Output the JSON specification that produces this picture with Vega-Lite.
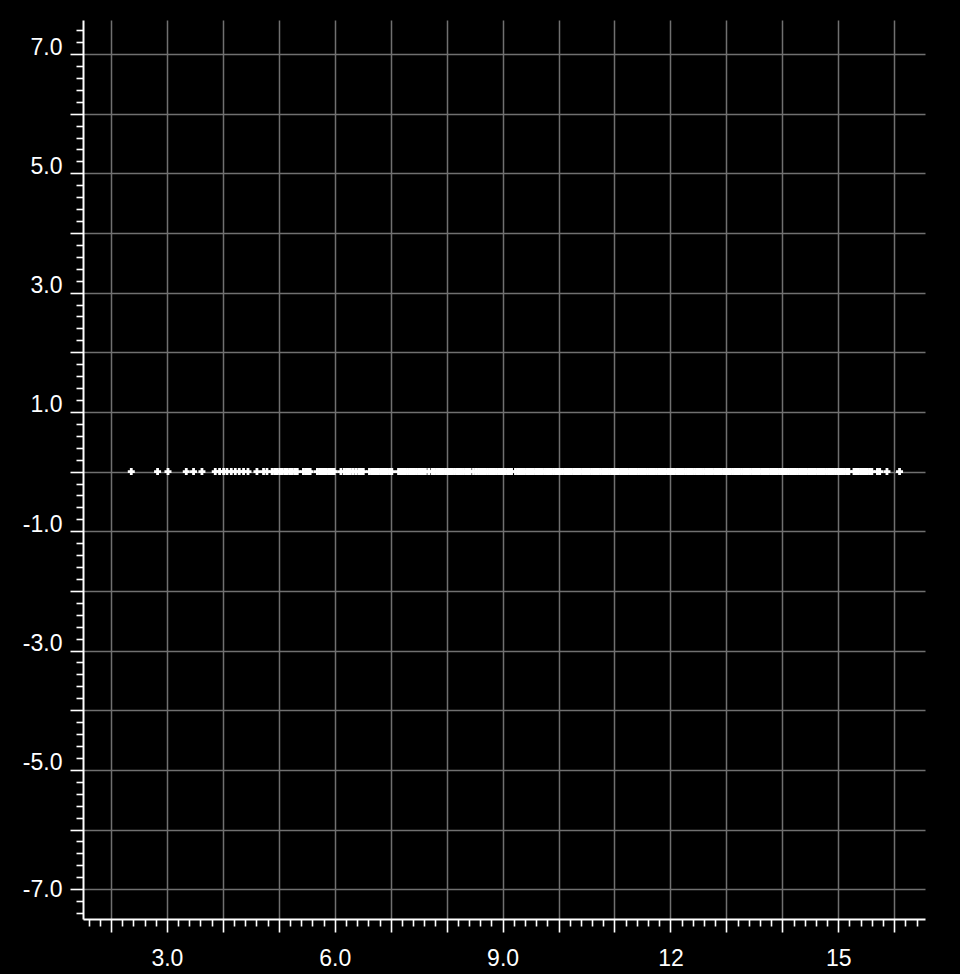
{
  "$schema": "https://vega.github.io/schema/vega-lite/v6.json",
  "width": 842,
  "height": 899,
  "autosize": {"type": "none"},
  "padding": {"left": 83, "top": 20, "right": 35, "bottom": 55},
  "background": "black",
  "view": {"stroke": null},
  "data": {"values": [
    {"x":2.363,"y":0},{"x":2.833,"y":0},{"x":3.019,"y":0},{"x":3.346,"y":0},{"x":3.476,"y":0},{"x":3.626,"y":0},{"x":3.864,"y":0},{"x":3.941,"y":0},{"x":4.013,"y":0},{"x":4.073,"y":0},{"x":4.15,"y":0},{"x":4.222,"y":0},{"x":4.293,"y":0},{"x":4.37,"y":0},{"x":4.449,"y":0},{"x":4.609,"y":0},{"x":4.727,"y":0},{"x":4.788,"y":0},
    {"x":4.88,"y":0},{"x":4.925,"y":0},{"x":4.97,"y":0},{"x":5.015,"y":0},{"x":5.06,"y":0},{"x":5.105,"y":0},{"x":5.15,"y":0},{"x":5.195,"y":0},{"x":5.24,"y":0},{"x":5.285,"y":0},{"x":5.33,"y":0},
    {"x":5.44,"y":0},{"x":5.48,"y":0},{"x":5.52,"y":0},{"x":5.56,"y":0},
    {"x":5.69,"y":0},{"x":5.73,"y":0},{"x":5.77,"y":0},{"x":5.81,"y":0},{"x":5.85,"y":0},{"x":5.89,"y":0},{"x":5.93,"y":0},{"x":5.97,"y":0},{"x":5.99,"y":0},
    {"x":6.11,"y":0},{"x":6.17,"y":0},{"x":6.21,"y":0},{"x":6.24,"y":0},{"x":6.28,"y":0},{"x":6.33,"y":0},{"x":6.38,"y":0},{"x":6.43,"y":0},{"x":6.47,"y":0},{"x":6.51,"y":0},
    {"x":6.62,"y":0},{"x":6.66,"y":0},{"x":6.7,"y":0},{"x":6.74,"y":0},{"x":6.78,"y":0},{"x":6.82,"y":0},{"x":6.86,"y":0},{"x":6.9,"y":0},{"x":6.94,"y":0},{"x":6.98,"y":0},{"x":7.02,"y":0},
    {"x":7.14,"y":0},{"x":7.18,"y":0},{"x":7.22,"y":0},{"x":7.26,"y":0},{"x":7.3,"y":0},{"x":7.34,"y":0},{"x":7.38,"y":0},{"x":7.42,"y":0},{"x":7.46,"y":0},{"x":7.5,"y":0},{"x":7.54,"y":0},{"x":7.58,"y":0},{"x":7.62,"y":0},
    {"x":7.68,"y":0},
    {"x":7.74,"y":0},{"x":7.78,"y":0},{"x":7.82,"y":0},{"x":7.86,"y":0},{"x":7.9,"y":0},{"x":7.94,"y":0},{"x":7.98,"y":0},{"x":8.02,"y":0},{"x":8.06,"y":0},{"x":8.1,"y":0},{"x":8.14,"y":0},{"x":8.18,"y":0},{"x":8.22,"y":0},{"x":8.26,"y":0},{"x":8.3,"y":0},{"x":8.34,"y":0},{"x":8.38,"y":0},{"x":8.42,"y":0},
    {"x":8.48,"y":0},
    {"x":8.53,"y":0},{"x":8.57,"y":0},{"x":8.61,"y":0},{"x":8.65,"y":0},{"x":8.69,"y":0},{"x":8.73,"y":0},{"x":8.77,"y":0},{"x":8.81,"y":0},{"x":8.85,"y":0},{"x":8.89,"y":0},{"x":8.93,"y":0},{"x":8.97,"y":0},{"x":9.01,"y":0},{"x":9.05,"y":0},{"x":9.09,"y":0},{"x":9.13,"y":0},{"x":9.16,"y":0},
    {"x":9.23,"y":0},{"x":9.27,"y":0},{"x":9.31,"y":0},{"x":9.35,"y":0},{"x":9.39,"y":0},{"x":9.43,"y":0},{"x":9.47,"y":0},{"x":9.51,"y":0},{"x":9.55,"y":0},{"x":9.59,"y":0},{"x":9.63,"y":0},{"x":9.67,"y":0},{"x":9.71,"y":0},{"x":9.75,"y":0},{"x":9.79,"y":0},{"x":9.83,"y":0},{"x":9.87,"y":0},{"x":9.91,"y":0},{"x":9.95,"y":0},{"x":9.99,"y":0},
    {"x":10.03,"y":0},{"x":10.07,"y":0},{"x":10.11,"y":0},{"x":10.15,"y":0},{"x":10.19,"y":0},{"x":10.23,"y":0},{"x":10.27,"y":0},{"x":10.31,"y":0},{"x":10.35,"y":0},{"x":10.39,"y":0},{"x":10.43,"y":0},{"x":10.47,"y":0},{"x":10.51,"y":0},{"x":10.55,"y":0},{"x":10.59,"y":0},{"x":10.63,"y":0},{"x":10.67,"y":0},{"x":10.71,"y":0},{"x":10.75,"y":0},{"x":10.79,"y":0},{"x":10.83,"y":0},{"x":10.87,"y":0},{"x":10.91,"y":0},{"x":10.95,"y":0},{"x":10.99,"y":0},
    {"x":11.03,"y":0},{"x":11.07,"y":0},{"x":11.11,"y":0},{"x":11.15,"y":0},{"x":11.19,"y":0},{"x":11.23,"y":0},{"x":11.27,"y":0},{"x":11.31,"y":0},{"x":11.35,"y":0},{"x":11.39,"y":0},{"x":11.43,"y":0},{"x":11.47,"y":0},{"x":11.51,"y":0},{"x":11.55,"y":0},{"x":11.59,"y":0},{"x":11.63,"y":0},{"x":11.67,"y":0},{"x":11.71,"y":0},{"x":11.75,"y":0},{"x":11.79,"y":0},{"x":11.83,"y":0},{"x":11.87,"y":0},{"x":11.91,"y":0},{"x":11.95,"y":0},{"x":11.99,"y":0},
    {"x":12.03,"y":0},{"x":12.07,"y":0},{"x":12.11,"y":0},{"x":12.15,"y":0},{"x":12.19,"y":0},{"x":12.23,"y":0},{"x":12.27,"y":0},{"x":12.31,"y":0},{"x":12.35,"y":0},{"x":12.39,"y":0},{"x":12.43,"y":0},{"x":12.47,"y":0},{"x":12.51,"y":0},{"x":12.55,"y":0},{"x":12.59,"y":0},{"x":12.63,"y":0},{"x":12.67,"y":0},{"x":12.71,"y":0},{"x":12.75,"y":0},{"x":12.79,"y":0},{"x":12.83,"y":0},{"x":12.87,"y":0},{"x":12.91,"y":0},{"x":12.95,"y":0},{"x":12.99,"y":0},
    {"x":13.03,"y":0},{"x":13.07,"y":0},{"x":13.11,"y":0},{"x":13.15,"y":0},{"x":13.19,"y":0},{"x":13.23,"y":0},{"x":13.27,"y":0},{"x":13.31,"y":0},{"x":13.35,"y":0},{"x":13.39,"y":0},{"x":13.43,"y":0},{"x":13.47,"y":0},{"x":13.51,"y":0},{"x":13.55,"y":0},{"x":13.59,"y":0},{"x":13.63,"y":0},{"x":13.67,"y":0},{"x":13.71,"y":0},{"x":13.75,"y":0},{"x":13.79,"y":0},{"x":13.83,"y":0},{"x":13.87,"y":0},{"x":13.91,"y":0},{"x":13.95,"y":0},{"x":13.99,"y":0},
    {"x":14.03,"y":0},{"x":14.07,"y":0},{"x":14.11,"y":0},{"x":14.15,"y":0},{"x":14.19,"y":0},{"x":14.23,"y":0},{"x":14.27,"y":0},{"x":14.31,"y":0},{"x":14.35,"y":0},{"x":14.39,"y":0},{"x":14.43,"y":0},{"x":14.47,"y":0},{"x":14.51,"y":0},{"x":14.55,"y":0},{"x":14.59,"y":0},{"x":14.63,"y":0},{"x":14.67,"y":0},{"x":14.71,"y":0},{"x":14.75,"y":0},{"x":14.79,"y":0},{"x":14.83,"y":0},{"x":14.87,"y":0},{"x":14.91,"y":0},{"x":14.95,"y":0},{"x":14.99,"y":0},
    {"x":15.03,"y":0},{"x":15.07,"y":0},{"x":15.11,"y":0},{"x":15.15,"y":0},{"x":15.19,"y":0},
    {"x":15.28,"y":0},{"x":15.32,"y":0},{"x":15.36,"y":0},{"x":15.4,"y":0},{"x":15.44,"y":0},{"x":15.48,"y":0},{"x":15.52,"y":0},{"x":15.56,"y":0},{"x":15.6,"y":0},
    {"x":15.7,"y":0},{"x":15.74,"y":0},{"x":15.87,"y":0},{"x":16.095,"y":0}
  ]},
  "mark": {"type": "point", "shape": "cross", "filled": true, "size": 49, "color": "white", "opacity": 1},
  "encoding": {
    "x": {
      "field": "x", "type": "quantitative",
      "scale": {"domain": [1.5, 16.55], "nice": false, "zero": false},
      "axis": {
        "title": null,
        "values": [1.6,1.8,2,2.2,2.4,2.6,2.8,3,3.2,3.4,3.6,3.8,4,4.2,4.4,4.6,4.8,5,5.2,5.4,5.6,5.8,6,6.2,6.4,6.6,6.8,7,7.2,7.4,7.6,7.8,8,8.2,8.4,8.6,8.8,9,9.2,9.4,9.6,9.8,10,10.2,10.4,10.6,10.8,11,11.2,11.4,11.6,11.8,12,12.2,12.4,12.6,12.8,13,13.2,13.4,13.6,13.8,14,14.2,14.4,14.6,14.8,15,15.2,15.4,15.6,15.8,16,16.2,16.4],
        "domainColor": "white", "domainWidth": 2,
        "tickColor": "white", "tickWidth": 1.6,
        "tickSize": {"condition": {"test": "abs(datum.value - round(datum.value)) < 0.01", "value": 13}, "value": 7},
        "grid": true, "gridColor": "#707070", "gridWidth": 1.5,
        "gridOpacity": {"condition": {"test": "abs(datum.value - round(datum.value)) < 0.01", "value": 1}, "value": 0},
        "labelExpr": "abs(datum.value - round(datum.value)) < 0.01 && round(datum.value) % 3 == 0 ? format(datum.value, '.2r') : ''",
        "labelFont": "Liberation Sans", "labelFontSize": 23, "labelColor": "white",
        "labelBaseline": "top", "labelPadding": 15,
        "labelOverlap": false, "labelBound": false, "labelFlush": false
      }
    },
    "y": {
      "field": "y", "type": "quantitative",
      "scale": {"domain": [-7.5, 7.57], "nice": false, "zero": false},
      "axis": {
        "title": null,
        "values": [-7.4,-7.2,-7,-6.8,-6.6,-6.4,-6.2,-6,-5.8,-5.6,-5.4,-5.2,-5,-4.8,-4.6,-4.4,-4.2,-4,-3.8,-3.6,-3.4,-3.2,-3,-2.8,-2.6,-2.4,-2.2,-2,-1.8,-1.6,-1.4,-1.2,-1,-0.8,-0.6,-0.4,-0.2,0,0.2,0.4,0.6,0.8,1,1.2,1.4,1.6,1.8,2,2.2,2.4,2.6,2.8,3,3.2,3.4,3.6,3.8,4,4.2,4.4,4.6,4.8,5,5.2,5.4,5.6,5.8,6,6.2,6.4,6.6,6.8,7,7.2,7.4],
        "domainColor": "white", "domainWidth": 2,
        "tickColor": "white", "tickWidth": 1.6,
        "tickSize": {"condition": {"test": "abs(datum.value - round(datum.value)) < 0.01", "value": 13}, "value": 7},
        "grid": true, "gridColor": "#707070", "gridWidth": 1.5,
        "gridOpacity": {"condition": {"test": "abs(datum.value - round(datum.value)) < 0.01", "value": 1}, "value": 0},
        "labelExpr": "abs(datum.value - round(datum.value)) < 0.01 && abs(round(datum.value)) % 2 == 1 ? (datum.value < 0 ? '-' : '') + format(abs(datum.value), '.1f') : ''",
        "labelFont": "Liberation Sans", "labelFontSize": 23, "labelColor": "white",
        "labelBaseline": {"condition": {"test": "datum.value < -6.9 && datum.value > -7.1", "value": "middle"}, "value": "alphabetic"},
        "labelPadding": 8,
        "labelOverlap": false, "labelBound": false, "labelFlush": false
      }
    }
  }
}
